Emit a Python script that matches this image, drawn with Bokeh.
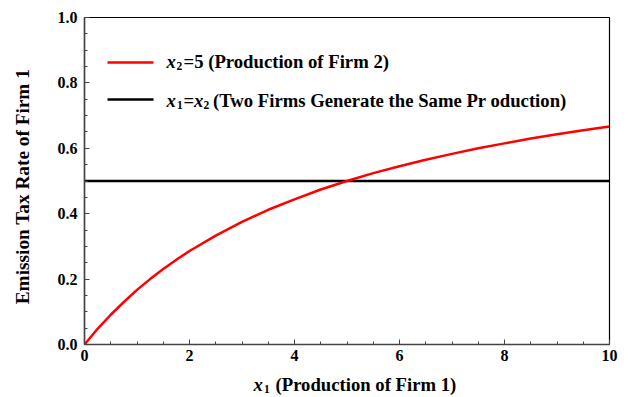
import math
from bokeh.plotting import figure
from bokeh.models import Range1d, FixedTicker, NumeralTickFormatter, Label, BoxAnnotation
from bokeh.layouts import column, row
from bokeh.embed import file_html
from bokeh.resources import INLINE

# ---- data ----
x1_values = [0, 0.25, 0.5, 0.75, 1, 1.25, 1.5, 1.75, 2, 2.5, 3, 3.5, 4, 4.5, 5, 5.5, 6,
             6.5, 7, 7.5, 8, 8.5, 9, 9.5, 10]
tax_rate = [0.0, 0.048, 0.091, 0.13, 0.167, 0.2, 0.231, 0.259, 0.286, 0.333, 0.375, 0.412,
            0.444, 0.474, 0.5, 0.524, 0.545, 0.565, 0.583, 0.6, 0.615, 0.63, 0.643, 0.655, 0.667]
same_x = [0, 10]
same_y = [0.5, 0.5]
x_ticks = [0, 2, 4, 6, 8, 10]
y_ticks = [0.0, 0.2, 0.4, 0.6, 0.8, 1.0]

W, H = 628, 397
FL, FR, FT, FB = 84, 609, 17, 344  # frame edges in canvas px
SW = 40    # width of the strip holding the y-axis title
H1 = 368   # height of main figure; the rest holds the x-axis title
FONT = "Liberation Serif"


def blank(width, height, **borders):
    f = figure(width=width, height=height, output_backend="svg", toolbar_location=None,
               x_range=Range1d(0, 1), y_range=Range1d(0, 1), **borders)
    f.axis.visible = False
    f.grid.visible = False
    f.outline_line_color = None
    f.background_fill_color = "white"
    f.border_fill_color = "white"
    return f


def lab(fig, x, y, text, size, style="bold", align="left", baseline="alphabetic", angle=0.0):
    fig.add_layout(Label(x=x, y=y, x_units="screen", y_units="screen", text=text,
                         text_font=FONT, text_font_style=style, text_font_size=f"{size}px",
                         text_align=align, text_baseline=baseline, text_color="black",
                         angle=angle))


p = figure(width=W - SW, height=H1, output_backend="svg", toolbar_location=None,
           x_range=Range1d(0, 10), y_range=Range1d(0, 1),
           min_border_left=FL - SW, min_border_right=W - FR, min_border_top=FT,
           min_border_bottom=H1 - FB)
p.background_fill_color = "white"
p.border_fill_color = "white"
p.grid.visible = False
p.outline_line_color = "black"
p.outline_line_width = 1.2

for ax in (p.xaxis[0], p.yaxis[0]):
    ax.major_tick_in = 5
    ax.major_tick_out = 0
    ax.minor_tick_in = 3
    ax.minor_tick_out = 0
    ax.axis_line_color = "#444444"
    ax.axis_line_width = 1.5
    ax.major_tick_line_color = "#444444"
    ax.minor_tick_line_color = "#444444"
    ax.major_label_text_font = FONT
    ax.major_label_text_font_style = "bold"
    ax.major_label_text_font_size = "16px"
    ax.major_label_text_color = "black"

p.xaxis.ticker = FixedTicker(ticks=x_ticks, minor_ticks=[i * 0.5 for i in range(21)])
p.yaxis.ticker = FixedTicker(ticks=y_ticks, minor_ticks=[i * 0.05 for i in range(21)])
p.xaxis.formatter = NumeralTickFormatter(format="0")
p.yaxis.formatter = NumeralTickFormatter(format="0.0")
p.xaxis.major_label_standoff = 5
p.yaxis.major_label_standoff = 7

p.line(same_x, same_y, line_color="black", line_width=2.5)
p.line(x1_values, tax_rate, line_color="#ff0000", line_width=2.5)


def mlab(cx, cy, text, size=18.7, style="bold"):
    lab(p, cx - FL, FB - cy, text, size, style)


# legend lines
for cy, col in ((62, "#ff0000"), (99, "black")):
    p.add_layout(BoxAnnotation(left=107 - FL, right=153 - FL, top=FB - (cy - 1.3), bottom=FB - (cy + 1.3),
                               left_units="screen", right_units="screen",
                               top_units="screen", bottom_units="screen",
                               fill_color=col, fill_alpha=1.0, line_color=None))

# legend row 1
mlab(166, 61, "x", style="bold italic")
mlab(176, 65, "2", size=11.5)
mlab(183, 61, "=5 (Production of Firm 2)")
# legend row 2
mlab(166, 100, "x", style="bold italic")
mlab(176.5, 104, "1", size=11.5)
mlab(183, 100, "=")
mlab(193.5, 100, "x", style="bold italic")
mlab(203, 104, "2", size=11.5)
mlab(212.5, 100, "(Two Firms Generate the Same Pr oduction)")

# x-axis title strip
q = blank(W - SW, H - H1, min_border_left=FL - SW, min_border_right=W - FR,
          min_border_top=0, min_border_bottom=0)


def qlab(cx, cy, text, size=18.7, style="bold"):
    lab(q, cx - FL, H - cy, text, size, style)


qlab(253, 384, "x", style="bold italic")
qlab(263.5, 388, "1", size=11.5)
qlab(275, 384, "(Production of Firm 1)")

# y-axis title strip
s = blank(SW, H, min_border_left=0, min_border_right=0, min_border_top=FT, min_border_bottom=H - FB)
lab(s, 22, FB - 186, "Emission Tax Rate of Firm 1", 19.3, align="center", baseline="middle",
    angle=math.pi / 2)

layout = row(s, column(p, q, spacing=0), spacing=0)
open("out.html", "w").write(file_html(layout, INLINE))
